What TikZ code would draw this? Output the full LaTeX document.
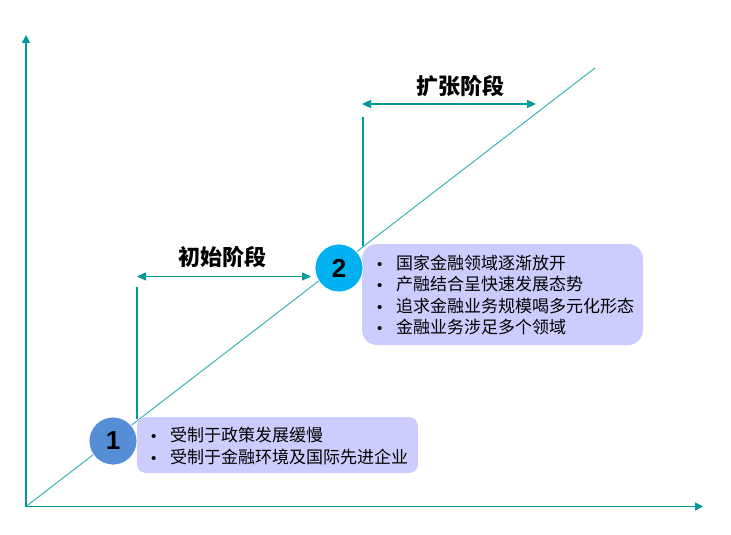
\documentclass[tikz,border=0pt]{standalone}
\usepackage{fontspec}
\setmainfont{Liberation Sans}
\newfontfamily\cjk{Noto Sans CJK SC}
\usetikzlibrary{arrows.meta}
\definecolor{axisteal}{HTML}{009999}
\definecolor{diagteal}{HTML}{3CB4B4}
\definecolor{boxfill}{HTML}{CCCCFF}
\definecolor{circA}{HTML}{558ED5}
\definecolor{circB}{HTML}{00B0F0}
\tikzset{
  axisline/.style={draw=axisteal, line width=1.5pt, -{Triangle[length=8pt,width=8pt]}},
  diagline/.style={draw=diagteal, line width=1pt},
  spanarrow/.style={draw=axisteal, line width=1.3pt, {Triangle[length=9pt,width=8pt]}-{Triangle[length=9pt,width=8pt]}},
  guide/.style={draw=axisteal, line width=1.1pt},
  numcircle/.style={circle, draw=white, line width=0.8pt, inner sep=0pt, font=\fontsize{26}{26}\selectfont\bfseries},
  stagelabel/.style={font=\cjk\bfseries\fontsize{22}{22}\selectfont, inner sep=0pt},
}
\newcommand{\bitem}{\makebox[19pt][l]{{\rmfamily\fontsize{15}{15}\selectfont\textbullet}}}
\begin{document}
\begin{tikzpicture}[x=1pt,y=-1pt]
\useasboundingbox (0,0) rectangle (731,535);
% axes
\coordinate (O) at (26,506.5);
\coordinate (ytop) at (26,35);
\coordinate (xend) at (703,506.5);
\coordinate (dtop) at (595,68);
\draw[diagline] (O) -- (dtop);
\draw[axisline] (O) -- (ytop);
\draw[axisline] (O) -- (xend);
% guides
\coordinate (g1top) at (137,287);
\coordinate (g1bot) at (137,419);
\coordinate (g2top) at (363,117);
\coordinate (g2bot) at (363,246);
\draw[guide] (g1top) -- (g1bot);
\draw[guide] (g2top) -- (g2bot);
\coordinate (a1l) at (137,276.5);
\coordinate (a1r) at (311,276.5);
\coordinate (a2l) at (362,104);
\coordinate (a2r) at (536,104);
\draw[spanarrow] (a1l) -- (a1r);
\draw[spanarrow] (a2l) -- (a2r);
\node[stagelabel] (lab1) at (222,257) {初始阶段};
\node[stagelabel] (lab2) at (460,86) {扩张阶段};
% boxes
\draw[fill=boxfill, draw=none, rounded corners=9pt] (137,417) rectangle (418,473);
\node[anchor=west, inner sep=0pt, align=left, font=\cjk\fontsize{17}{22}\selectfont] (t1) at (151,446)
  {\bitem 受制于政策发展缓慢\\ \bitem 受制于金融环境及国际先进企业};
\draw[fill=boxfill, draw=none, rounded corners=15pt] (362,244) rectangle (643,345);
\node[anchor=west, inner sep=0pt, align=left, font=\cjk\fontsize{17}{21.3}\selectfont] (t2) at (377,295)
  {\bitem 国家金融领域逐渐放开\\ \bitem 产融结合呈快速发展态势\\ \bitem 追求金融业务规模喝多元化形态\\ \bitem 金融业务涉足多个领域};
% circles
\node[numcircle, fill=circA, minimum size=48pt] (c1) at (113,441) {1};
\node[numcircle, fill=circB, minimum size=48pt] (c2) at (339,268) {2};
\end{tikzpicture}
\end{document}
